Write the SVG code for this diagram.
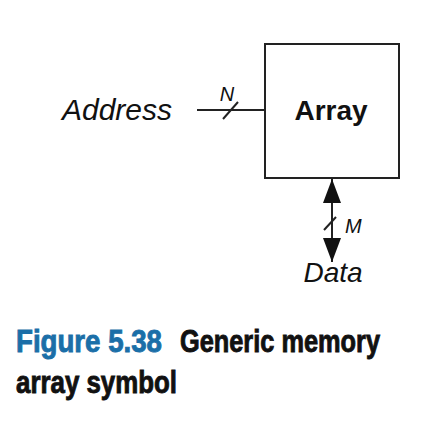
<svg xmlns="http://www.w3.org/2000/svg" width="430" height="426" viewBox="0 0 430 426">
<defs>
<style>
.lbl{font-family:"Liberation Sans",Arial,sans-serif;fill:#111}
.it{font-style:italic}
.bd{font-weight:bold}
.cap{font-family:"Liberation Sans Narrow","Liberation Sans",Arial,sans-serif;font-weight:bold;stroke-width:0.9}
.wire{stroke:#222;stroke-width:2;fill:none}
</style>
<marker id="ah" viewBox="0 0 10 10" refX="10" refY="5" markerWidth="24" markerHeight="18" preserveAspectRatio="none" markerUnits="userSpaceOnUse" orient="auto-start-reverse">
<path d="M0,0 L10,5 L0,10 Z" fill="#111"/>
</marker>
</defs>
<rect width="430" height="426" fill="#fff"/>
<g id="array">
<rect x="265" y="44" width="134" height="134" fill="#fff" stroke="#222" stroke-width="2"/>
<text class="lbl bd" x="331" y="120" font-size="28" text-anchor="middle">Array</text>
</g>
<g id="address">
<text class="lbl it" x="62" y="120" font-size="29" textLength="110" lengthAdjust="spacingAndGlyphs">Address</text>
</g>
<g id="data">
<text class="lbl it" x="333" y="282" font-size="28" text-anchor="middle">Data</text>
</g>
<g id="connectors">
<line class="wire" x1="197" y1="110" x2="265" y2="110"/>
<line class="wire" x1="223" y1="119" x2="238" y2="102"/>
<text class="lbl it" x="227" y="101" font-size="20" text-anchor="middle">N</text>
<line class="wire" x1="332" y1="179" x2="332" y2="262" marker-start="url(#ah)" marker-end="url(#ah)"/>
<line class="wire" x1="324" y1="230" x2="336" y2="217"/>
<text class="lbl it" x="345" y="233" font-size="20">M</text>
</g>
<g id="caption">
<text class="cap" x="16" y="352" font-size="31" fill="#1b6fa8" stroke="#1b6fa8" textLength="146" lengthAdjust="spacingAndGlyphs">Figure 5.38</text>
<text class="cap" x="180" y="352" font-size="31" fill="#111" stroke="#111" textLength="200" lengthAdjust="spacingAndGlyphs">Generic memory</text>
<text class="cap" x="16" y="393" font-size="31" fill="#111" stroke="#111" textLength="161" lengthAdjust="spacingAndGlyphs">array symbol</text>
</g>
</svg>
